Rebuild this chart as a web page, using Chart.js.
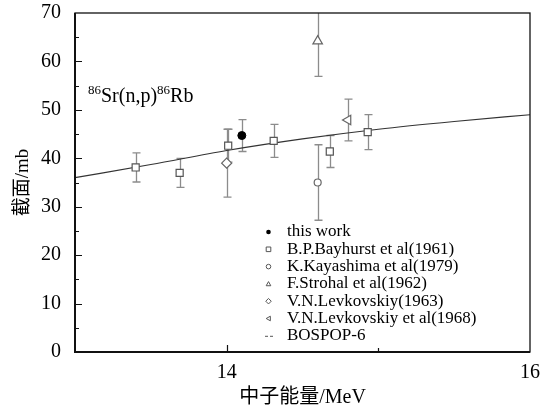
<!DOCTYPE html>
<html>
<head>
<meta charset="utf-8">
<script src="https://cdn.jsdelivr.net/npm/chart.js@4.4.0/dist/chart.umd.min.js"></script>
<style>
  html, body { margin: 0; padding: 0; background: #fff; }
  #chart { display: block; }
</style>
</head>
<body>
<canvas id="chart" width="545" height="412"></canvas>
<script>
// 86Sr(n,p)86Rb cross sections, energy in MeV, sigma in mb
const thisWorkE = [14.10];
const thisWorkS = [44.7];
const thisWorkErr = [3.3];

const bayhurstE = [13.40, 13.69, 14.01, 14.31, 14.68, 14.93];
const bayhurstS = [38.1, 37.0, 42.6, 43.6, 41.4, 45.4];
const bayhurstErr = [3.0, 3.0, 3.4, 3.4, 3.3, 3.6];

const kayashimaE = [14.60];
const kayashimaS = [35.0];
const kayashimaErr = [7.8];

const strohalE = [14.60];
const strohalS = [64.2];
const strohalErr = [7.3];

const levk63E = [14.00];
const levk63S = [39.0];
const levk63Err = [7.0];

const levk68E = [14.80];
const levk68S = [47.9];
const levk68Err = [4.3];

// evaluated curve
const bospopE = [13.0, 13.5, 14.0, 14.5, 15.0, 15.5, 16.0];
const bospopS = [36.0, 38.7, 41.6, 44.0, 46.0, 47.6, 49.0];

const yTicks = [0, 10, 20, 30, 40, 50, 60, 70];
const xLabels = [14, 16];

const SERIF = "'Liberation Serif', 'Times New Roman', serif";
const CJK = "'Liberation Serif', 'Noto Sans CJK SC', serif";

const pts = (xs, ys) => xs.map((v, i) => ({ x: v, y: ys[i] }));

const errorBars = {
  id: 'errorBars',
  beforeDatasetsDraw(chart) {
    const { ctx, chartArea, scales: { x, y } } = chart;
    ctx.save();
    ctx.beginPath();
    ctx.rect(chartArea.left, chartArea.top, chartArea.width, chartArea.height);
    ctx.clip();
    ctx.strokeStyle = '#8c8c8c';
    ctx.lineWidth = 1.3;
    chart.data.datasets.forEach(ds => {
      if (!ds.errors) return;
      ds.data.forEach((p, i) => {
        const px = Math.round(x.getPixelForValue(p.x)) + 0.5;
        const top = y.getPixelForValue(p.y + ds.errors[i]);
        const bot = y.getPixelForValue(p.y - ds.errors[i]);
        ctx.beginPath();
        ctx.moveTo(px, top); ctx.lineTo(px, bot);
        ctx.moveTo(px - 4, top); ctx.lineTo(px + 4, top);
        ctx.moveTo(px - 4, bot); ctx.lineTo(px + 4, bot);
        ctx.stroke();
      });
    });
    ctx.restore();
  }
};

// box around the plot plus inward tick marks
const frame = {
  id: 'frame',
  afterDatasetsDraw(chart) {
    const { ctx, chartArea: a, scales: { x, y } } = chart;
    ctx.save();
    ctx.strokeStyle = '#111';
    ctx.lineWidth = 1.3;
    ctx.strokeRect(a.left, a.top, a.width, a.height);
    // left and bottom axes are a bit heavier
    ctx.lineWidth = 2;
    ctx.beginPath();
    ctx.moveTo(a.left, a.top); ctx.lineTo(a.left, a.bottom); ctx.lineTo(a.right, a.bottom);
    ctx.stroke();
    ctx.lineWidth = 1.2;
    ctx.beginPath();
    for (let v = 5; v < 70; v += 5) {
      const py = Math.round(y.getPixelForValue(v)) + 0.5;
      const len = v % 10 === 0 ? 7 : 4;
      ctx.moveTo(a.left, py); ctx.lineTo(a.left + len, py);
    }
    [[14, 7], [15, 4]].forEach(([v, len]) => {
      const px = Math.round(x.getPixelForValue(v)) + 0.5;
      ctx.moveTo(px, a.bottom); ctx.lineTo(px, a.bottom - len);
    });
    ctx.stroke();
    ctx.restore();
  }
};

function marker(ctx, style, cx, cy, s) {
  ctx.beginPath();
  if (style === 'dot') {
    ctx.arc(cx, cy, s, 0, Math.PI * 2);
    ctx.fill();
    return;
  }
  if (style === 'circle') ctx.arc(cx, cy, s, 0, Math.PI * 2);
  if (style === 'rect') ctx.rect(cx - s, cy - s, 2 * s, 2 * s);
  if (style === 'triangle') { ctx.moveTo(cx, cy - s); ctx.lineTo(cx + s, cy + s * 0.8); ctx.lineTo(cx - s, cy + s * 0.8); ctx.closePath(); }
  if (style === 'diamond') { ctx.moveTo(cx, cy - s * 1.2); ctx.lineTo(cx + s * 1.2, cy); ctx.lineTo(cx, cy + s * 1.2); ctx.lineTo(cx - s * 1.2, cy); ctx.closePath(); }
  if (style === 'left') { ctx.moveTo(cx - s, cy); ctx.lineTo(cx + s * 0.8, cy - s); ctx.lineTo(cx + s * 0.8, cy + s); ctx.closePath(); }
  ctx.stroke();
}

const legendRows = [
  ['dot', 'this work'],
  ['rect', 'B.P.Bayhurst et al(1961)'],
  ['circle', 'K.Kayashima et al(1979)'],
  ['triangle', 'F.Strohal et al(1962)'],
  ['diamond', 'V.N.Levkovskiy(1963)'],
  ['left', 'V.N.Levkovskiy et al(1968)'],
  ['dash', 'BOSPOP-6']
];

const notes = {
  id: 'notes',
  afterDraw(chart) {
    const { ctx } = chart;
    ctx.save();
    // legend
    ctx.font = '17px ' + SERIF;
    ctx.textBaseline = 'middle';
    ctx.fillStyle = '#000';
    ctx.strokeStyle = '#555';
    ctx.lineWidth = 1;
    legendRows.forEach(([style, text], i) => {
      const ry = 232 + i * 17.3;
      if (style === 'dash') {
        ctx.beginPath();
        ctx.moveTo(265, ry + 0.5); ctx.lineTo(268, ry + 0.5);
        ctx.moveTo(270, ry + 0.5); ctx.lineTo(273, ry + 0.5);
        ctx.stroke();
      } else {
        marker(ctx, style, 268.5, ry, 2.3);
      }
      ctx.fillText(text, 287, ry);
    });

    // reaction label with mass-number superscripts
    ctx.textBaseline = 'alphabetic';
    let tx = 88;
    const base = 102;
    [['86', true], ['Sr(n,p)', false], ['86', true], ['Rb', false]].forEach(([t, sup]) => {
      ctx.font = (sup ? '13px ' : '20px ') + SERIF;
      ctx.fillText(t, tx, sup ? base - 8 : base);
      tx += ctx.measureText(t).width;
    });
    ctx.restore();
  }
};

new Chart(document.getElementById('chart'), {
  type: 'scatter',
  data: {
    datasets: [
      {
        label: 'this work', data: pts(thisWorkE, thisWorkS), errors: thisWorkErr,
        pointStyle: 'circle', pointRadius: 4, borderColor: '#000', backgroundColor: '#000', borderWidth: 1
      },
      {
        label: 'B.P.Bayhurst et al(1961)', data: pts(bayhurstE, bayhurstS), errors: bayhurstErr,
        pointStyle: 'rect', pointRadius: 5, borderColor: '#555', backgroundColor: '#fff', borderWidth: 1.2
      },
      {
        label: 'K.Kayashima et al(1979)', data: pts(kayashimaE, kayashimaS), errors: kayashimaErr,
        pointStyle: 'circle', pointRadius: 3.5, borderColor: '#666', backgroundColor: '#fff', borderWidth: 1.2
      },
      {
        label: 'F.Strohal et al(1962)', data: pts(strohalE, strohalS), errors: strohalErr,
        pointStyle: 'triangle', pointRadius: 5.5, borderColor: '#666', backgroundColor: '#fff', borderWidth: 1.2
      },
      {
        label: 'V.N.Levkovskiy(1963)', data: pts(levk63E, levk63S), errors: levk63Err,
        pointStyle: 'rectRot', pointRadius: 5, borderColor: '#666', backgroundColor: '#fff', borderWidth: 1.2
      },
      {
        label: 'V.N.Levkovskiy et al(1968)', data: pts(levk68E, levk68S), errors: levk68Err,
        pointStyle: 'triangle', rotation: -90, pointRadius: 5.5, borderColor: '#666', backgroundColor: '#fff', borderWidth: 1.2
      },
      {
        label: 'BOSPOP-6', type: 'line', data: pts(bospopE, bospopS), order: 10,
        showLine: true, pointRadius: 0, borderColor: '#333', borderWidth: 1.1,
        cubicInterpolationMode: 'monotone', fill: false
      }
    ]
  },
  options: {
    responsive: false,
    animation: false,
    devicePixelRatio: 1,
    layout: { padding: { top: 13, right: 15, left: 0, bottom: 0 } },
    plugins: {
      legend: { display: false },
      tooltip: { enabled: false }
    },
    scales: {
      x: {
        type: 'linear', min: 13, max: 16,
        afterFit: s => { s.height = 60; s.paddingLeft = 0; s.paddingRight = 0; },
        afterBuildTicks: s => { s.ticks = xLabels.map(v => ({ value: v })); },
        grid: { display: false, drawTicks: false },
        border: { display: false },
        ticks: { color: '#000', padding: 9, font: { family: SERIF, size: 20 }, maxRotation: 0 },
        title: { display: true, text: '中子能量/MeV', color: '#000', font: { family: CJK, size: 20 }, padding: { top: 0, bottom: 2 } }
      },
      y: {
        min: 0, max: 70,
        afterFit: s => { s.width = 75; s.paddingTop = 0; s.paddingBottom = 0; },
        afterBuildTicks: s => { s.ticks = yTicks.map(v => ({ value: v })); },
        grid: { display: false, drawTicks: false },
        border: { display: false },
        ticks: { color: '#000', padding: 14, font: { family: SERIF, size: 20 } },
        title: { display: true, text: '截面/mb', color: '#000', font: { family: CJK, size: 19 }, padding: { top: 12, bottom: 0 } }
      }
    }
  },
  plugins: [errorBars, frame, notes]
});
</script>
</body>
</html>
